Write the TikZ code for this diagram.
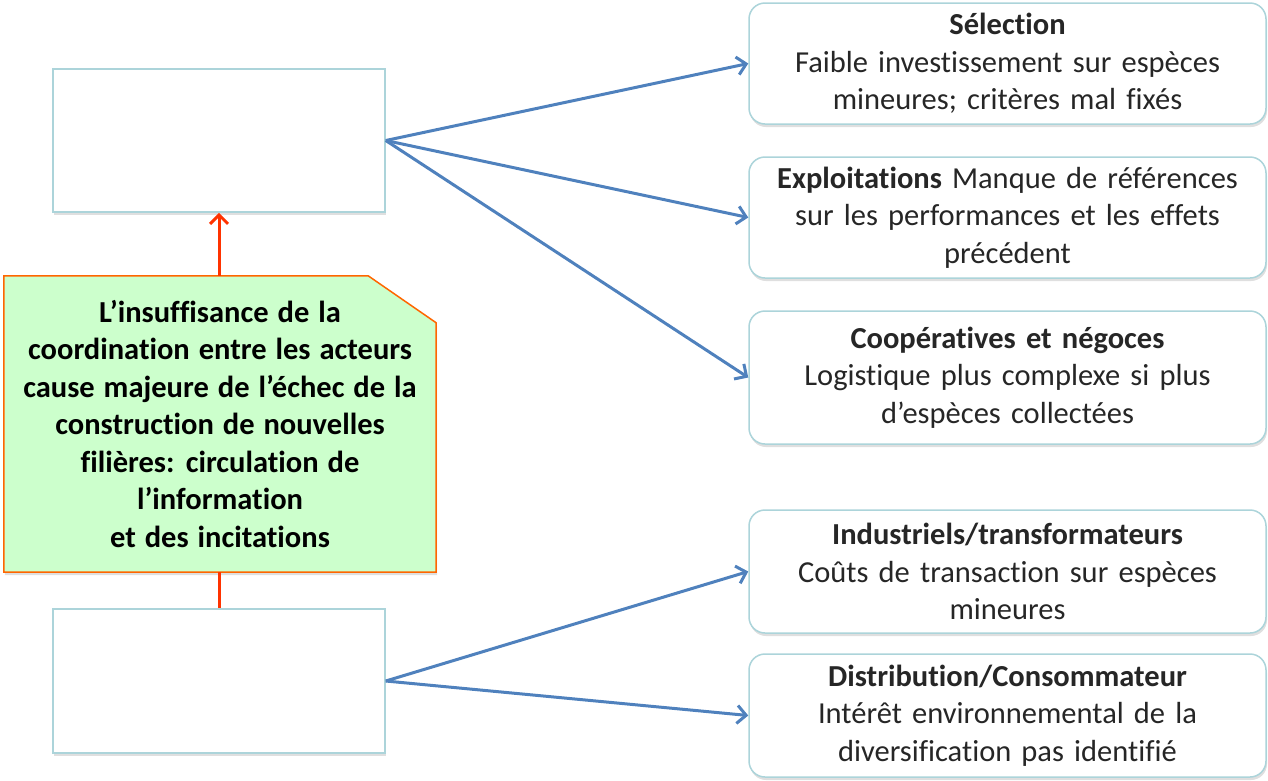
\documentclass[tikz,border=0pt]{standalone}
\usepackage{fontspec}
\setmainfont{Carlito}[Ligatures=NoCommon, WordSpace=1.3]
\usetikzlibrary{arrows.meta,shadows,backgrounds}
\definecolor{boxline}{RGB}{172,212,218}
\definecolor{arrowblue}{RGB}{79,129,189}
\definecolor{arrowred}{RGB}{255,51,0}
\definecolor{causefill}{RGB}{204,255,204}
\definecolor{causeline}{RGB}{255,102,0}
\definecolor{textgray}{RGB}{38,38,38}
\tikzset{
  actorbox/.style={draw=boxline, line width=1.5pt, fill=white, rounded corners=16pt,
    minimum width=517pt, inner sep=4pt, text width=509pt, align=center, text=textgray,
    font=\fontsize{30.5}{37.5}\selectfont,
    drop shadow={shadow xshift=1pt, shadow yshift=-3pt, opacity=0.25}},
  emptybox/.style={draw=boxline, line width=1.5pt, fill=white, minimum width=332pt,
    minimum height=143pt, drop shadow={shadow xshift=1pt, shadow yshift=-3pt, opacity=0.25}},
  bluearrow/.style={draw=arrowblue, line width=3pt, -{Straight Barb[length=9pt,width=18pt]}},
  redarrow/.style={draw=arrowred, line width=3pt},
}
\begin{document}
\begin{tikzpicture}[x=1pt,y=-1pt]
            \useasboundingbox (0,0) rectangle (1268,780);
            \node[emptybox] (top) at (219,140.5) {};
            \node[emptybox, minimum height=144pt] (bot) at (219,681) {};
            \node[minimum width=432pt, minimum height=296pt, inner sep=2pt, align=center,
              font=\fontsize{30.5}{37.5}\selectfont\bfseries] (cause) at (220,424)
              {L’insuffisance de la\\ coordination entre les acteurs\\ cause majeure de l’échec de la\\
               construction de nouvelles\\ filières: circulation de\\ l’information\\ et des incitations};
            \begin{scope}[on background layer]
            \fill[causefill, draw=causeline, line width=1.5pt,
              drop shadow={shadow xshift=1pt, shadow yshift=-3pt, opacity=0.25}]
              (cause.south west) -- (cause.north west) -- ([xshift=-68pt]cause.north east)
              -- ([yshift=-47pt]cause.north east) -- (cause.south east) -- cycle;
            \end{scope}
            \node[actorbox, minimum height=121pt] (sel) at (1007.5,63.5)
              {\textbf{Sélection}\\ Faible investissement sur espèces\\ mineures; critères mal fixés};
            \node[actorbox, minimum height=121pt] (expl) at (1007.5,217.5)
              {\textbf{Exploitations} Manque de références\\ sur les performances et les effets\\ précédent};
            \node[actorbox, minimum height=133pt] (coop) at (1007.5,377.5)
              {\textbf{Coopératives et négoces}\\ Logistique plus complexe si plus\\ d’espèces collectées};
            \node[actorbox, minimum height=123pt] (indus) at (1007.5,571.5)
              {\textbf{Industriels/transformateurs}\\ Coûts de transaction sur espèces\\ mineures};
            \node[actorbox, minimum height=123pt] (distr) at (1007.5,715.5)
              {\textbf{Distribution/Consommateur}\\ Intérêt environnemental de la\\ diversification pas identifié};
            \draw[bluearrow] (top.east) -- (sel.west);
            \draw[bluearrow] (top.east) -- (expl.west);
            \draw[bluearrow] (top.east) -- (coop.west);
            \draw[bluearrow] (bot.east) -- (indus.west);
            \draw[bluearrow] (bot.east) -- (distr.west);
            \draw[redarrow, -{Straight Barb[length=9pt,width=18pt]}] (top.south |- cause.north) -- (top.south);
            \draw[redarrow] (bot.north |- cause.south) -- (bot.north);
        \end{tikzpicture}
\end{document}
